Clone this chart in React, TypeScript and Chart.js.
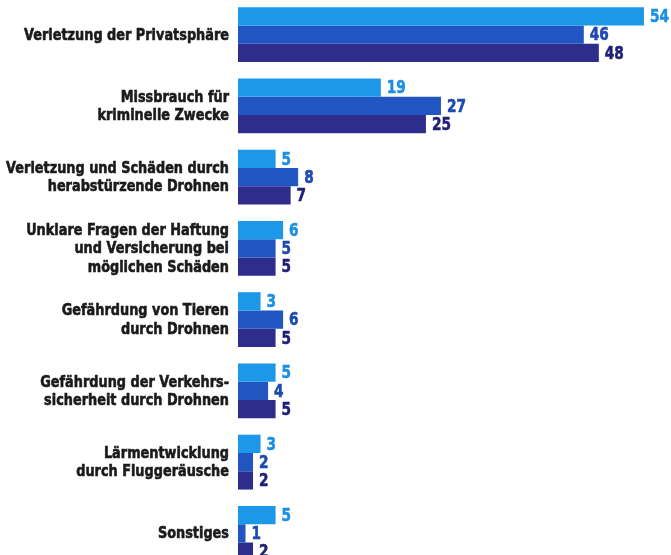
import React, { useEffect, useRef } from "react";
import { Chart, registerables } from "chart.js";

Chart.register(...registerables);

const categories: string[][] = [
  ["Verletzung der Privatsphäre"],
  ["Missbrauch für", "kriminelle Zwecke"],
  ["Verletzung und Schäden durch", "herabstürzende Drohnen"],
  ["Unklare Fragen der Haftung", "und Versicherung bei", "möglichen Schäden"],
  ["Gefährdung von Tieren", "durch Drohnen"],
  ["Gefährdung der Verkehrs-", "sicherheit durch Drohnen"],
  ["Lärmentwicklung", "durch Fluggeräusche"],
  ["Sonstiges"],
];

const seriesA = [54, 19, 5, 6, 3, 5, 3, 5];
const seriesB = [46, 27, 8, 5, 6, 4, 2, 1];
const seriesC = [48, 25, 7, 5, 5, 5, 2, 2];

const barColors = ["#1d98e8", "#2156c2", "#2f2d8c"];
const valueColors = ["#1a8fe3", "#1c49b2", "#1f1f78"];

function condensedText(ctx: any, text: string, x: number, y: number, factor: number, align: "left" | "right", stroke: number) {
  ctx.save();
  ctx.translate(x, y);
  ctx.scale(factor, 1);
  ctx.textAlign = align;
  ctx.fillText(text, 0, 0);
  if (stroke > 0) {
    ctx.lineWidth = stroke;
    ctx.strokeStyle = ctx.fillStyle;
    ctx.strokeText(text, 0, 0);
  }
  ctx.restore();
}

const labelsPlugin = {
  id: "labelsPlugin",
  afterDatasetsDraw(chart: any) {
    const ctx = chart.ctx;
    const yScale = chart.scales.y;
    const right = chart.chartArea.left - 9;
    ctx.save();
    ctx.textBaseline = "middle";
    ctx.font = "bold 15.5px 'DejaVu Sans', sans-serif";
    ctx.fillStyle = "#1a1a1a";
    const lh = 18.5;
    categories.forEach((lines, i) => {
      const cy = yScale.getPixelForValue(i);
      const start = cy - ((lines.length - 1) * lh) / 2;
      lines.forEach((line, j) => {
        condensedText(ctx, line, right, start + j * lh + 1, 0.83, "right", 0.6);
      });
    });
    ctx.font = "bold 18px 'DejaVu Sans', sans-serif";
    chart.data.datasets.forEach((ds: any, di: number) => {
      const meta = chart.getDatasetMeta(di);
      meta.data.forEach((bar: any, i: number) => {
        ctx.fillStyle = valueColors[di];
        condensedText(ctx, String(ds.data[i]), bar.x + 6, bar.y + 1, 0.76, "left", 0.6);
      });
    });
    ctx.restore();
  },
};

export default function App() {
  const ref = useRef<HTMLCanvasElement>(null);
  useEffect(() => {
    if (!ref.current) return;
    const chart = new Chart(ref.current, {
      type: "bar",
      data: {
        labels: categories.map((l) => l.join(" ")),
        datasets: [
          { data: seriesA, backgroundColor: barColors[0] },
          { data: seriesB, backgroundColor: barColors[1] },
          { data: seriesC, backgroundColor: barColors[2] },
        ],
      },
      options: {
        indexAxis: "y",
        animation: false,
        responsive: false,
        maintainAspectRatio: false,
        layout: { padding: 0 },
        datasets: { bar: { categoryPercentage: 0.77, barPercentage: 1 } },
        plugins: { legend: { display: false }, tooltip: { enabled: false } },
        scales: {
          x: { display: false, min: 0, max: 57.6 },
          y: {
            grid: { display: false, drawTicks: false },
            border: { display: false },
            ticks: { display: false },
            afterFit: (scale: any) => {
              scale.width = 238;
              scale.paddingTop = 0;
              scale.paddingBottom = 0;
            },
          },
        },
      },
      plugins: [labelsPlugin],
    });
    return () => chart.destroy();
  }, []);
  return (
    <div style={{ position: "absolute", left: 0, top: -1, width: 671, height: 570, background: "#fff" }}>
      <canvas ref={ref} width={671} height={570} style={{ display: "block" }} />
    </div>
  );
}
